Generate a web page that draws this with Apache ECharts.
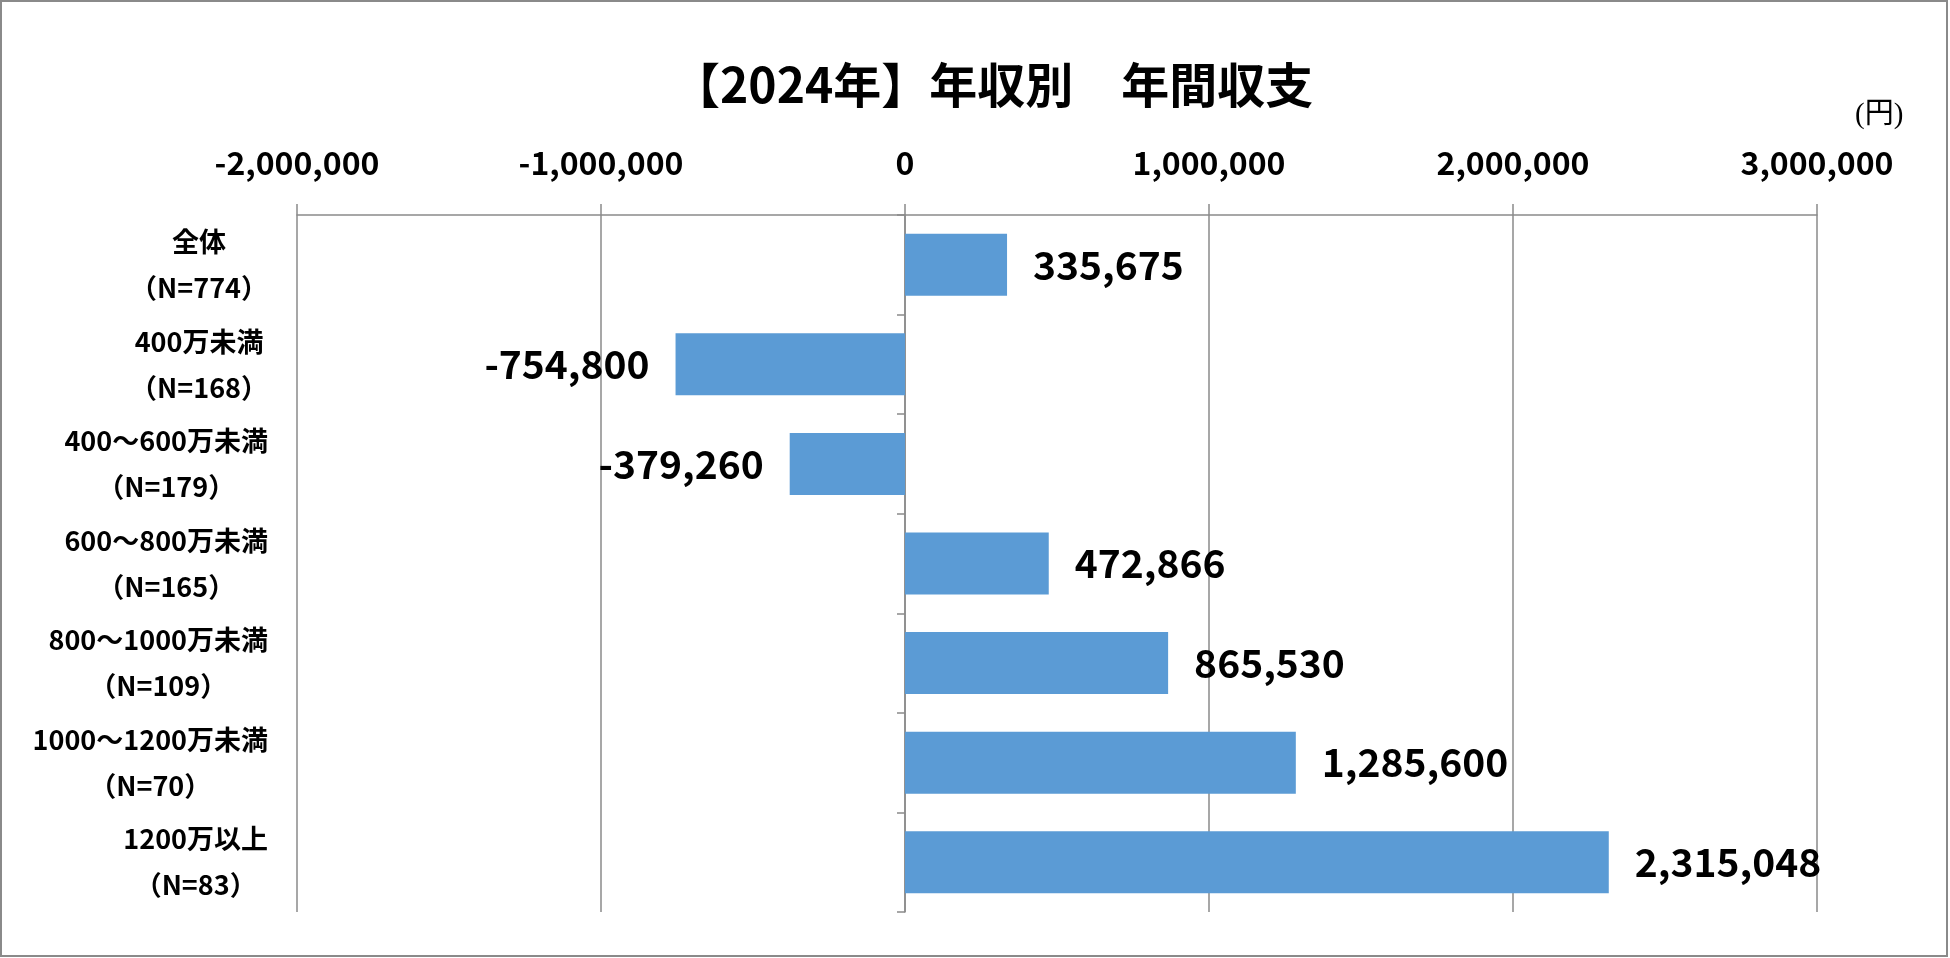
<!DOCTYPE html>
<html>
<head>
<meta charset="utf-8">
<script src="https://cdn.jsdelivr.net/npm/echarts@6/dist/echarts.min.js"></script>
<style>
html,body{margin:0;padding:0;background:#fff;}
#chart{width:1950px;height:958px;}
</style>
</head>
<body>
<div id="chart"></div>
<script>
const titleText = '【2024年】年収別　年間収支';
const unitText = '(円)';
const categories = ['全体', '400万未満', '400～600万未満', '600～800万未満', '800～1000万未満', '1000～1200万未満', '1200万以上'];
const sampleSizes = [774, 168, 179, 165, 109, 70, 83];
const values = [335675, -754800, -379260, 472866, 865530, 1285600, 2315048];
const xMin = -2000000;
const xMax = 3000000;
const xStep = 1000000;

const FONT = '"Noto Sans CJK JP", "Noto Sans", sans-serif';
const GRAY = '#8a8a8a';
const fmt = v => Number(v).toLocaleString('en-US');

const chart = echarts.init(document.getElementById('chart'), null, {renderer: 'canvas'});
chart.setOption({
  backgroundColor: '#ffffff',
  animation: false,
  title: [{
    text: titleText,
    left: 672,
    top: 61,
    padding: 0,
    textStyle: {fontFamily: FONT, fontSize: 48, fontWeight: 'bold', color: '#000'}
  }, {
    text: unitText,
    left: 1855,
    top: 101,
    padding: 0,
    textStyle: {fontFamily: '"Liberation Serif", "Noto Sans CJK JP", serif', fontSize: 29, fontWeight: 'normal', color: '#000'}
  }],
  graphic: [{
    type: 'rect',
    shape: {x: 1, y: 1, width: 1946, height: 955},
    style: {fill: 'none', stroke: GRAY, lineWidth: 2},
    silent: true
  }],
  grid: {left: 297, right: 133, top: 215, bottom: 46, containLabel: false},
  xAxis: {
    type: 'value',
    position: 'top',
    min: xMin,
    max: xMax,
    interval: xStep,
    axisLine: {show: true, lineStyle: {color: GRAY, width: 1.5}},
    axisTick: {show: true, length: 11, lineStyle: {color: GRAY, width: 1.5}},
    splitLine: {show: true, lineStyle: {color: GRAY, width: 1.5}},
    axisLabel: {
      margin: 36,
      fontFamily: FONT, fontSize: 32, fontWeight: 'bold', color: '#000',
      formatter: fmt
    }
  },
  yAxis: [{
    type: 'category',
    inverse: true,
    position: 'left',
    data: categories,
    axisLine: {show: false, onZero: false},
    axisTick: {show: false},
    splitLine: {show: false},
    axisLabel: {
      margin: 29,
      align: 'right',
      formatter: (name, idx) => `{a|${name}}\n{a|（N=${sampleSizes[idx]}）}`,
      rich: {
        a: {align: 'center', fontFamily: FONT, fontSize: 27, fontWeight: 'bold', color: '#000', lineHeight: 46}
      }
    }
  }, {
    type: 'category',
    inverse: true,
    position: 'left',
    data: categories,
    axisLine: {show: true, onZero: true, lineStyle: {color: GRAY, width: 1.5}},
    axisTick: {show: true, length: 8, lineStyle: {color: GRAY, width: 1.5}},
    axisLabel: {show: false},
    splitLine: {show: false}
  }],
  series: [{
    type: 'bar',
    yAxisIndex: 0,
    barWidth: 62,
    itemStyle: {color: '#5B9BD5'},
    data: values.map(v => ({
      value: v,
      label: {position: v < 0 ? 'left' : 'right'}
    })),
    label: {
      show: true,
      distance: 26,
      fontFamily: FONT, fontSize: 39, fontWeight: 'bold', color: '#000',
      formatter: p => fmt(p.value)
    }
  }]
});
</script>
</body>
</html>
